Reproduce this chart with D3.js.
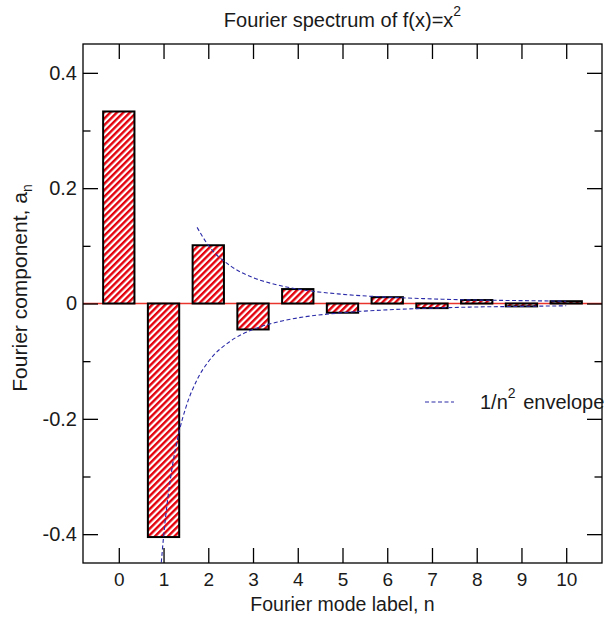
<!DOCTYPE html>
<html>
<head>
<meta charset="utf-8">
<script src="https://cdn.jsdelivr.net/npm/d3@7"></script>
<style>
  html, body { margin: 0; padding: 0; background: #fff; }
  text { font-family: "Liberation Sans", Arial, Helvetica, sans-serif; fill: #1a1a1a; }
</style>
</head>
<body>
<svg id="chart" width="604" height="617"></svg>
<script>
// ---- data ----
const modes = [0, 1, 2, 3, 4, 5, 6, 7, 8, 9, 10];
const coeffs = [0.333, -0.405, 0.101, -0.045, 0.025, -0.016, 0.011, -0.008, 0.006, -0.005, 0.004];

const envUpperN = [1.75, 2, 2.5, 3, 3.5, 4, 5, 6, 7, 8, 9, 10];
const envUpperV = [0.132, 0.101, 0.065, 0.045, 0.033, 0.025, 0.016, 0.011, 0.008, 0.006, 0.005, 0.004];
const envLowerN = [0.95, 1, 1.1, 1.2, 1.35, 1.5, 1.75, 2, 2.5, 3, 3.5, 4, 5, 6, 7, 8, 9, 10];
const envLowerV = [-0.449, -0.405, -0.335, -0.281, -0.222, -0.18, -0.132, -0.101, -0.065, -0.045, -0.033, -0.025, -0.016, -0.011, -0.008, -0.006, -0.005, -0.004];

const yMajorTicks = [-0.4, -0.2, 0, 0.2, 0.4];
const yTickLabels = ["-0.4", "-0.2", "0", "0.2", "0.4"];
const yMinorTicks = [-0.3, -0.1, 0.1, 0.3];
const xTicks = [0, 1, 2, 3, 4, 5, 6, 7, 8, 9, 10];

const titleText = "Fourier spectrum of f(x)=x";
const xLabelText = "Fourier mode label, n";
const yLabelText = "Fourier component, a";
const legendText = "1/n";

// ---- layout ----
const svg = d3.select("#chart");
const L = 83, R = 602, T = 44, B = 563;

const x = d3.scaleLinear().domain([-0.8, 10.8]).range([L, R]);
const y = d3.scaleLinear().domain([-0.45, 0.45]).range([B, T]);

const defs = svg.append("defs");
const pat = defs.append("pattern")
  .attr("id", "hatch")
  .attr("patternUnits", "userSpaceOnUse")
  .attr("width", 4.6).attr("height", 10)
  .attr("patternTransform", "rotate(45)");
pat.append("rect").attr("width", 4.6).attr("height", 10).attr("fill", "#ffffff");
pat.append("rect").attr("width", 2.4).attr("height", 10).attr("fill", "#e3000b");

defs.append("clipPath").attr("id", "clip")
  .append("rect").attr("x", L).attr("y", T).attr("width", R - L).attr("height", B - T);

// zero line
svg.append("line")
  .attr("x1", L).attr("x2", R)
  .attr("y1", y(0)).attr("y2", y(0))
  .attr("stroke", "#e8342c").attr("stroke-width", 1.3);

// bars
const barW = x(0.7) - x(0);
svg.append("g").selectAll("rect")
  .data(modes.map((n, i) => ({ n, v: coeffs[i] })))
  .join("rect")
  .attr("x", d => x(d.n) - barW / 2)
  .attr("width", barW)
  .attr("y", d => y(Math.max(0, d.v)))
  .attr("height", d => Math.abs(y(d.v) - y(0)))
  .attr("fill", "url(#hatch)")
  .attr("stroke", "#000")
  .attr("stroke-width", 2);

// envelope
const line = d3.line().x(d => x(d[0])).y(d => y(d[1])).curve(d3.curveMonotoneX);
const envG = svg.append("g").attr("clip-path", "url(#clip)");
[[envUpperN, envUpperV], [envLowerN, envLowerV]].forEach(([ns, vs]) => {
  envG.append("path")
    .attr("d", line(ns.map((n, i) => [n, vs[i]])))
    .attr("fill", "none")
    .attr("stroke", "#2a2aa8")
    .attr("stroke-width", 1.1)
    .attr("stroke-dasharray", "4,2.5");
});

// frame
svg.append("rect").attr("x", L).attr("y", T).attr("width", R - L).attr("height", B - T)
  .attr("fill", "none").attr("stroke", "#000").attr("stroke-width", 1.3);

// axes
const major = 15, minor = 7.5;
const fontSize = 19;

svg.append("g").attr("transform", `translate(0,${B})`)
  .call(d3.axisBottom(x).tickValues(xTicks).tickSizeInner(-major).tickSizeOuter(0).tickPadding(10).tickFormat(d3.format("d")));
svg.append("g").attr("transform", `translate(0,${T})`)
  .call(d3.axisTop(x).tickValues(xTicks).tickSizeInner(-major).tickSizeOuter(0).tickFormat(""));

svg.append("g").attr("transform", `translate(${L},0)`)
  .call(d3.axisLeft(y).tickValues(yMajorTicks).tickSizeInner(-major).tickSizeOuter(0).tickPadding(6)
    .tickFormat((d, i) => yTickLabels[i]));
svg.append("g").attr("transform", `translate(${L},0)`)
  .call(d3.axisLeft(y).tickValues(yMinorTicks).tickSizeInner(-minor).tickSizeOuter(0).tickFormat(""));
svg.append("g").attr("transform", `translate(${R},0)`)
  .call(d3.axisRight(y).tickValues(yMajorTicks).tickSizeInner(-major).tickSizeOuter(0).tickFormat(""));
svg.append("g").attr("transform", `translate(${R},0)`)
  .call(d3.axisRight(y).tickValues(yMinorTicks).tickSizeInner(-minor).tickSizeOuter(0).tickFormat(""));

svg.selectAll(".domain").remove();
svg.selectAll(".tick line").attr("stroke", "#000").attr("stroke-width", 1.3);
svg.selectAll(".tick text")
  .style("font-family", '"Liberation Sans", Arial, sans-serif')
  .style("font-size", fontSize + "px").attr("fill", "#1a1a1a");
svg.selectAll("g").filter(function () { return this.getAttribute("transform") === `translate(${L},0)`; })
  .selectAll(".tick text").style("font-size", "20px");

// title
const title = svg.append("text")
  .attr("x", (L + R) / 2).attr("y", 27)
  .attr("text-anchor", "middle")
  .style("font-size", "20px");
title.append("tspan").text(titleText);
title.append("tspan").attr("dy", -11).style("font-size", "14px").text("2");

// x label
svg.append("text")
  .attr("x", (L + R) / 2).attr("y", 611)
  .attr("text-anchor", "middle")
  .style("font-size", "19.5px")
  .text(xLabelText);

// y label
const yl = svg.append("text")
  .attr("transform", `translate(27,288) rotate(-90)`)
  .attr("text-anchor", "middle")
  .style("font-size", "21px");
yl.append("tspan").text(yLabelText);
yl.append("tspan").attr("dy", 5).style("font-size", "14px").text("n");

// legend
svg.append("line")
  .attr("x1", 425).attr("x2", 454).attr("y1", 402).attr("y2", 402)
  .attr("stroke", "#2a2aa8").attr("stroke-width", 1.1).attr("stroke-dasharray", "4,2.5");
const lg = svg.append("text").attr("x", 480).attr("y", 409).style("font-size", "20px");
lg.append("tspan").text(legendText);
lg.append("tspan").attr("dy", -11).style("font-size", "14px").text("2");
lg.append("tspan").attr("dy", 11).attr("dx", 2).text(" envelope");
</script>
</body>
</html>
